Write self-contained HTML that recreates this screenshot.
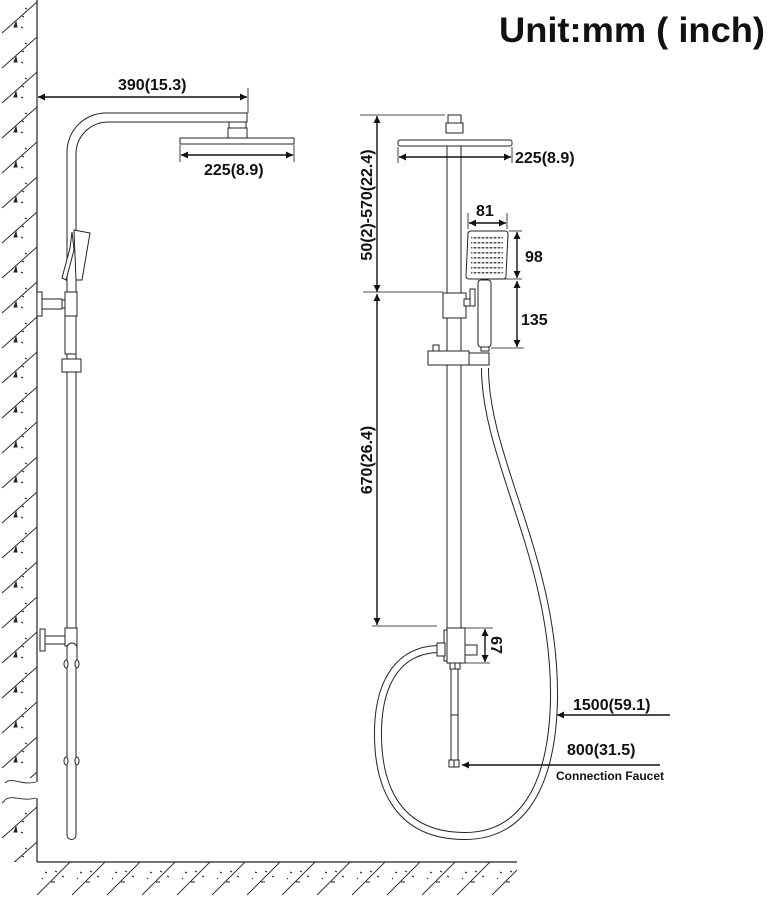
<!DOCTYPE html>
<html><head><meta charset="utf-8"><style>
html,body{margin:0;padding:0;background:#fff;}
svg{display:block;}
text{font-family:"Liberation Sans",sans-serif;font-weight:bold;fill:#111;}
</style></head><body>
<svg width="770" height="900" viewBox="0 0 770 900" xmlns="http://www.w3.org/2000/svg">
<defs>
<pattern id="wall" width="37" height="35" patternUnits="userSpaceOnUse">
<line x1="2" y1="33" x2="37" y2="2" stroke="#222" stroke-width="0.9"/>
<path d="M16,22 l-2,5 h3z M22,16 l2,1 M21,27 l2,1 M25,8 l2,1" stroke="#222" fill="#222" stroke-width="1"/>
</pattern>
<pattern id="floor" x="37" y="862" width="35" height="35" patternUnits="userSpaceOnUse">
<line x1="0" y1="33" x2="33" y2="0" stroke="#222" stroke-width="0.9"/>
<path d="M8,10 l2,1 M18,9 l2,1 M14,20 h4 M25,14 l2,1 M5,16 l1,1" stroke="#222" stroke-width="1"/>
</pattern>
<marker id="ah" viewBox="0 0 10 10" refX="10" refY="5" markerWidth="9" markerHeight="7" orient="auto-start-reverse" markerUnits="userSpaceOnUse"><path d="M0,0 L10,5 L0,10z" fill="#111"/></marker>
</defs>

<text x="499" y="42" font-size="35" textLength="266" lengthAdjust="spacingAndGlyphs">Unit:mm ( inch)</text>

<!-- wall -->
<rect x="0" y="0" width="37" height="782" fill="url(#wall)"/>
<rect x="0" y="798" width="37" height="64" fill="url(#wall)"/>
<rect x="5" y="778" width="34" height="24" fill="#fff"/>
<path d="M5,783 C12,776 20,786 36,782 M5,800 C12,794 22,802 36,798" stroke="#222" fill="none" stroke-width="0.9"/>
<line x1="37" y1="0" x2="37" y2="782" stroke="#222" stroke-width="1.2"/>
<line x1="37" y1="798" x2="37" y2="862" stroke="#222" stroke-width="1.2"/>
<rect x="37" y="862" width="480" height="35" fill="url(#floor)"/>
<line x1="37" y1="862" x2="517" y2="862" stroke="#222" stroke-width="1.2"/>

<g stroke="#222" fill="#fff" stroke-width="1">
<!-- left side view -->
<path d="M67,835 V152 A39 39 0 0 1 106,113 H247 V122 H108 A32 32 0 0 0 76,154 V835"/>
<path d="M67,835 A4.5 4.5 0 0 0 76,835" fill="none"/>
<rect x="229" y="122" width="17" height="6"/>
<rect x="228" y="128" width="19" height="10"/>
<rect x="180" y="138" width="114" height="6"/>
<polygon points="74,230 90,233 82,280 76,280"/>
<polygon points="72,232 70,248 62,278 66,280 74,250"/>
<rect x="37" y="292" width="5" height="24"/>
<rect x="42" y="299" width="20" height="10"/>
<rect x="62" y="300" width="4" height="8"/>
<rect x="65" y="292" width="12" height="24"/>
<rect x="65" y="316" width="11" height="38"/>
<rect x="62" y="359" width="19" height="13"/>
<rect x="40" y="629" width="5" height="22"/>
<rect x="45" y="636" width="20" height="8"/>
<rect x="65" y="628" width="12" height="18"/>
<path d="M67,662 V648 A5 5 0 0 1 77,648 V662" />
<ellipse cx="66" cy="664" rx="2" ry="4"/><ellipse cx="77" cy="664" rx="2" ry="4"/>
<ellipse cx="66" cy="761" rx="2" ry="4"/><ellipse cx="77" cy="761" rx="2" ry="4"/>

<!-- right front view -->
<rect x="447" y="140" width="14" height="488"/>
<rect x="448" y="115" width="13" height="8"/>
<rect x="446" y="123" width="17" height="10"/>
<rect x="398" y="140" width="114" height="6" rx="2"/>
<rect x="443" y="293" width="23" height="25"/>
<rect x="464" y="299" width="8" height="7"/>
<rect x="470" y="289" width="5" height="17"/>
<path d="M468,234 Q468,231 471,231 H505 Q508,231 508,234 L506,276 Q506,279 503,279 H469 Q466,279 466,276Z"/>
<rect x="478" y="280" width="13" height="67" rx="3"/>
<rect x="481" y="347" width="8" height="4"/>
<rect x="433" y="345" width="6" height="6"/>
<rect x="428" y="351" width="41" height="14"/>
<rect x="469" y="353" width="20" height="12"/>
</g>
<g fill="#222">
<path d="M471,237h32v1.5h-32z M471,242h32v1.5h-32z M471,247h32v1.5h-32z M471,252h32v1.5h-32z M471,257h32v1.5h-32z M471,262h32v1.5h-32z M471,267h32v1.5h-32z M471,272h32v1.5h-32z" opacity="0.8"/>
</g>
<g stroke="#fff" stroke-width="1.3">
<path d="M473,236v38 M477,236v38 M481,236v38 M485,236v38 M489,236v38 M493,236v38 M497,236v38 M501,236v38"/>
</g>

<!-- hose -->
<path d="M485,368 C485,460 556,560 554,700 C552,790 520,836 465,836 C400,836 377,790 378,730 C379,680 400,650 438,649" fill="none" stroke="#222" stroke-width="8"/>
<path d="M485,368 C485,460 556,560 554,700 C552,790 520,836 465,836 C400,836 377,790 378,730 C379,680 400,650 438,649" fill="none" stroke="#fff" stroke-width="6"/>

<g stroke="#222" fill="#fff" stroke-width="1">
<rect x="447" y="628" width="18" height="35"/>
<rect x="444" y="630" width="3" height="31"/>
<rect x="437" y="643" width="8" height="13"/>
<rect x="465" y="645" width="12" height="10"/>
<rect x="450" y="663" width="5" height="6"/><rect x="455" y="663" width="5" height="6"/>
<rect x="451" y="669" width="7" height="91"/>
<line x1="451" y1="715" x2="458" y2="715"/>
<rect x="449" y="760" width="5" height="7"/><rect x="454" y="760" width="5" height="7"/>
</g>

<!-- dimensions -->
<g stroke="#111" stroke-width="1.4" fill="none">
<line x1="38" y1="97" x2="247" y2="97" marker-start="url(#ah)" marker-end="url(#ah)"/>
<line x1="248" y1="88" x2="248" y2="113" stroke-width="0.8"/>
<line x1="181" y1="155" x2="293" y2="155" marker-start="url(#ah)" marker-end="url(#ah)"/>
<line x1="180" y1="145" x2="180" y2="162" stroke-width="0.8"/><line x1="294" y1="145" x2="294" y2="162" stroke-width="0.8"/>
<line x1="399" y1="157" x2="511" y2="157" marker-start="url(#ah)" marker-end="url(#ah)"/>
<line x1="398" y1="147" x2="398" y2="163" stroke-width="0.8"/><line x1="512" y1="147" x2="512" y2="163" stroke-width="0.8"/>
<line x1="377" y1="116" x2="377" y2="292" marker-start="url(#ah)" marker-end="url(#ah)"/>
<line x1="377" y1="294" x2="377" y2="625" marker-start="url(#ah)" marker-end="url(#ah)"/>
<line x1="360" y1="115" x2="445" y2="115" stroke-width="0.8"/>
<line x1="363" y1="292" x2="443" y2="292" stroke-width="0.8"/>
<line x1="372" y1="626" x2="437" y2="626" stroke-width="0.8"/>
<line x1="469" y1="223" x2="506" y2="223" marker-start="url(#ah)" marker-end="url(#ah)"/>
<line x1="468" y1="213" x2="468" y2="229" stroke-width="0.8"/><line x1="507" y1="213" x2="507" y2="229" stroke-width="0.8"/>
<line x1="517" y1="232" x2="517" y2="278" marker-start="url(#ah)" marker-end="url(#ah)"/>
<line x1="509" y1="231" x2="522" y2="231" stroke-width="0.8"/>
<line x1="517" y1="281" x2="517" y2="347" marker-start="url(#ah)" marker-end="url(#ah)"/>
<line x1="492" y1="279" x2="522" y2="279" stroke-width="0.8"/>
<line x1="491" y1="348" x2="524" y2="348" stroke-width="0.8"/>
<line x1="485" y1="629" x2="485" y2="662" marker-start="url(#ah)" marker-end="url(#ah)"/>
<line x1="465" y1="628" x2="493" y2="628" stroke-width="0.8"/>
<line x1="465" y1="663" x2="490" y2="663" stroke-width="0.8"/>
<line x1="670" y1="715" x2="557" y2="715" marker-end="url(#ah)"/>
<line x1="660" y1="765" x2="462" y2="765" marker-end="url(#ah)"/>
</g>

<text x="118" y="90" font-size="16">390(15.3)</text>
<text x="204" y="175" font-size="16">225(8.9)</text>
<text x="515" y="163" font-size="16">225(8.9)</text>
<text x="476" y="216" font-size="16">81</text>
<text x="525" y="262" font-size="16">98</text>
<text x="521" y="325" font-size="16">135</text>
<text x="573" y="710" font-size="16">1500(59.1)</text>
<text x="567" y="755" font-size="16">800(31.5)</text>
<text x="556" y="780" font-size="12">Connection Faucet</text>
<text transform="translate(372,205) rotate(-90)" text-anchor="middle" font-size="16">50(2)-570(22.4)</text>
<text transform="translate(372,460) rotate(-90)" text-anchor="middle" font-size="16">670(26.4)</text>
<text transform="translate(491,645) rotate(90)" text-anchor="middle" font-size="16">67</text>
</svg>
</body></html>
